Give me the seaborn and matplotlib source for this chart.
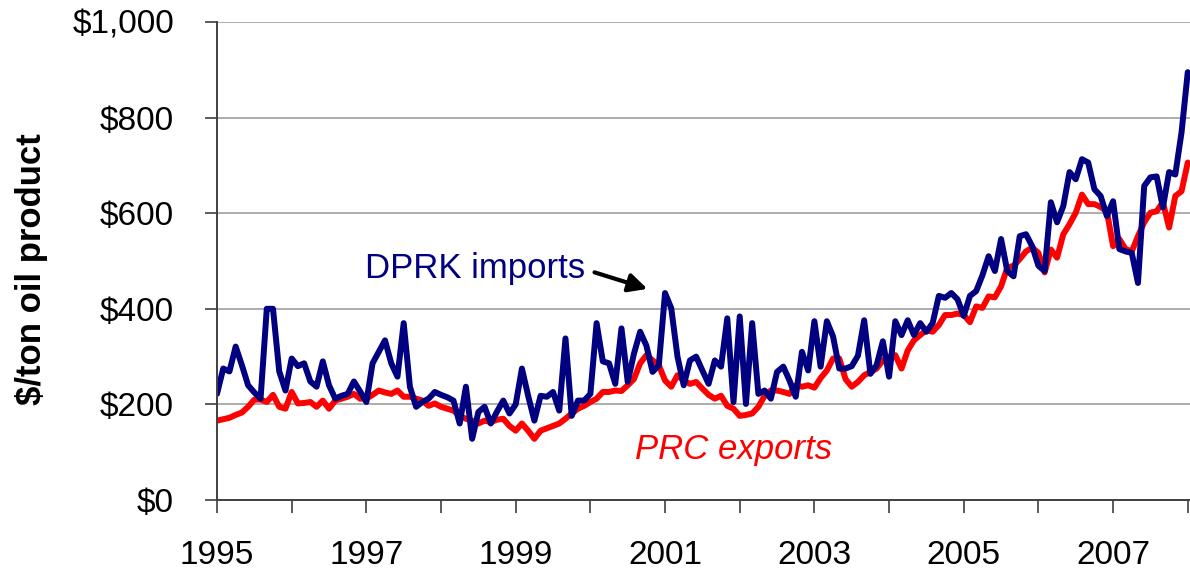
import pandas as pd
import seaborn as sns
import matplotlib.pyplot as plt

# monthly unit values, Jan 1995 .. Jan 2008 ($ per ton of oil product)
dprk_imports = [
    222, 275, 269, 321, 282, 240, 225, 212, 400, 400, 269, 229,   # 1995
    296, 280, 286, 248, 237, 290, 240, 212, 218, 222, 248, 227,   # 1996
    205, 286, 310, 334, 286, 258, 370, 237, 195, 205, 212, 226,   # 1997
    220, 215, 208, 160, 237, 128, 184, 195, 160, 185, 208, 181,   # 1998
    200, 275, 218, 166, 218, 216, 226, 187, 338, 176, 208, 208,   # 1999
    222, 370, 290, 286, 243, 359, 247, 306, 352, 323, 268, 282,   # 2000
    433, 401, 300, 240, 292, 300, 271, 243, 292, 279, 380, 205,   # 2001
    384, 201, 370, 222, 229, 212, 268, 279, 250, 216, 310, 271,   # 2002
    374, 279, 374, 342, 275, 275, 280, 302, 376, 264, 282, 332,   # 2003
    258, 374, 345, 376, 345, 370, 352, 370, 427, 423, 433, 420,   # 2004
    385, 427, 437, 470, 510, 479, 546, 479, 468, 552, 556, 531,   # 2005
    490, 479, 623, 581, 615, 686, 671, 713, 706, 650, 636, 594,   # 2006
    625, 525, 520, 517, 454, 657, 675, 677, 612, 686, 681, 769,   # 2007
    895,                                                          # 2008
]
prc_exports = [
    166, 169, 172, 178, 183, 195, 210, 210, 205, 220, 195, 191,   # 1995
    226, 202, 203, 205, 195, 208, 191, 208, 212, 216, 222, 212,   # 1996
    212, 220, 229, 225, 222, 229, 216, 216, 212, 208, 197, 202,   # 1997
    195, 191, 187, 176, 170, 166, 160, 166, 163, 168, 170, 155,   # 1998
    145, 160, 145, 128, 145, 150, 155, 160, 170, 181, 191, 197,   # 1999
    205, 212, 226, 226, 229, 228, 240, 253, 286, 303, 292, 282,   # 2000
    250, 237, 261, 250, 243, 247, 233, 220, 212, 218, 197, 191,   # 2001
    176, 178, 181, 195, 218, 229, 229, 226, 222, 240, 237, 240,   # 2002
    235, 255, 271, 296, 296, 253, 237, 247, 261, 268, 275, 292,   # 2003
    300, 303, 275, 313, 334, 345, 355, 352, 366, 387, 387, 390,   # 2004
    387, 372, 405, 402, 426, 424, 447, 486, 490, 504, 520, 528,   # 2005
    517, 476, 524, 507, 556, 577, 601, 639, 619, 619, 613, 604,   # 2006
    531, 546, 525, 520, 552, 581, 601, 604, 623, 570, 636, 646,   # 2007
    706,                                                          # 2008
]

y_ticks = [0, 200, 400, 600, 800, 1000]
y_labels = ['$0', '$200', '$400', '$600', '$800', '$1,000']
years = list(range(1995, 2009))
year_labels = [str(y) if (y - 1995) % 2 == 0 else '' for y in years]

months = pd.date_range('1995-01-01', periods=len(dprk_imports), freq='MS')
df = pd.DataFrame({
    'year': months.year + (months.month - 1) / 12,
    'DPRK imports': dprk_imports,
    'PRC exports': prc_exports,
})

sns.set_theme(style='white')
plt.rcParams['font.family'] = ['Liberation Sans', 'DejaVu Sans']
plt.rcParams['text.color'] = 'black'

fig = plt.figure(figsize=(11.9, 5.69), dpi=100)
ax = fig.add_axes([217 / 1190, 69 / 569, 973 / 1190, 478 / 569])

sns.lineplot(data=df, x='year', y='PRC exports', color='#FF0000', linewidth=4.3, ax=ax)
sns.lineplot(data=df, x='year', y='DPRK imports', color='#000080', linewidth=4.3, ax=ax)

ax.set_xlim(1995, 2008.03)
ax.set_ylim(0, 1000)
ax.set_yticks(y_ticks)
ax.set_yticklabels(y_labels)
ax.set_xticks(years)
ax.set_xticklabels(year_labels)
ax.set_xlabel('')
ax.set_ylabel('')

ax.yaxis.grid(True, color='#a6a6a6', linewidth=1.3)
ax.xaxis.grid(False)
ax.set_axisbelow(True)
for side in ['top', 'right']:
    ax.spines[side].set_visible(False)
for side in ['left', 'bottom']:
    ax.spines[side].set_color('#404040')
    ax.spines[side].set_linewidth(1.4)

ax.tick_params(axis='both', which='major', bottom=True, left=True, direction='out',
               length=9, width=1.2, color='#404040', labelsize=24, labelcolor='black')
ax.tick_params(axis='y', pad=22)
ax.tick_params(axis='x', pad=20)

fig.text(32 / 1190, 1 - 269 / 569, '$/ton oil product', rotation=90, ha='center',
         va='center', fontsize=25, fontweight='bold', color='black')

ax.text(1996.98, 464, 'DPRK imports', color='#000080', fontsize=25, ha='left', va='baseline')
ax.text(2000.60, 85, 'PRC exports', color='#FF0000', fontsize=25, fontstyle='italic',
        ha='left', va='baseline')
ax.annotate('', xy=(2000.80, 440), xytext=(2000.02, 478),
            arrowprops=dict(arrowstyle='-|>', color='black', lw=3, mutation_scale=28))

fig.savefig('out.png', dpi=100)
